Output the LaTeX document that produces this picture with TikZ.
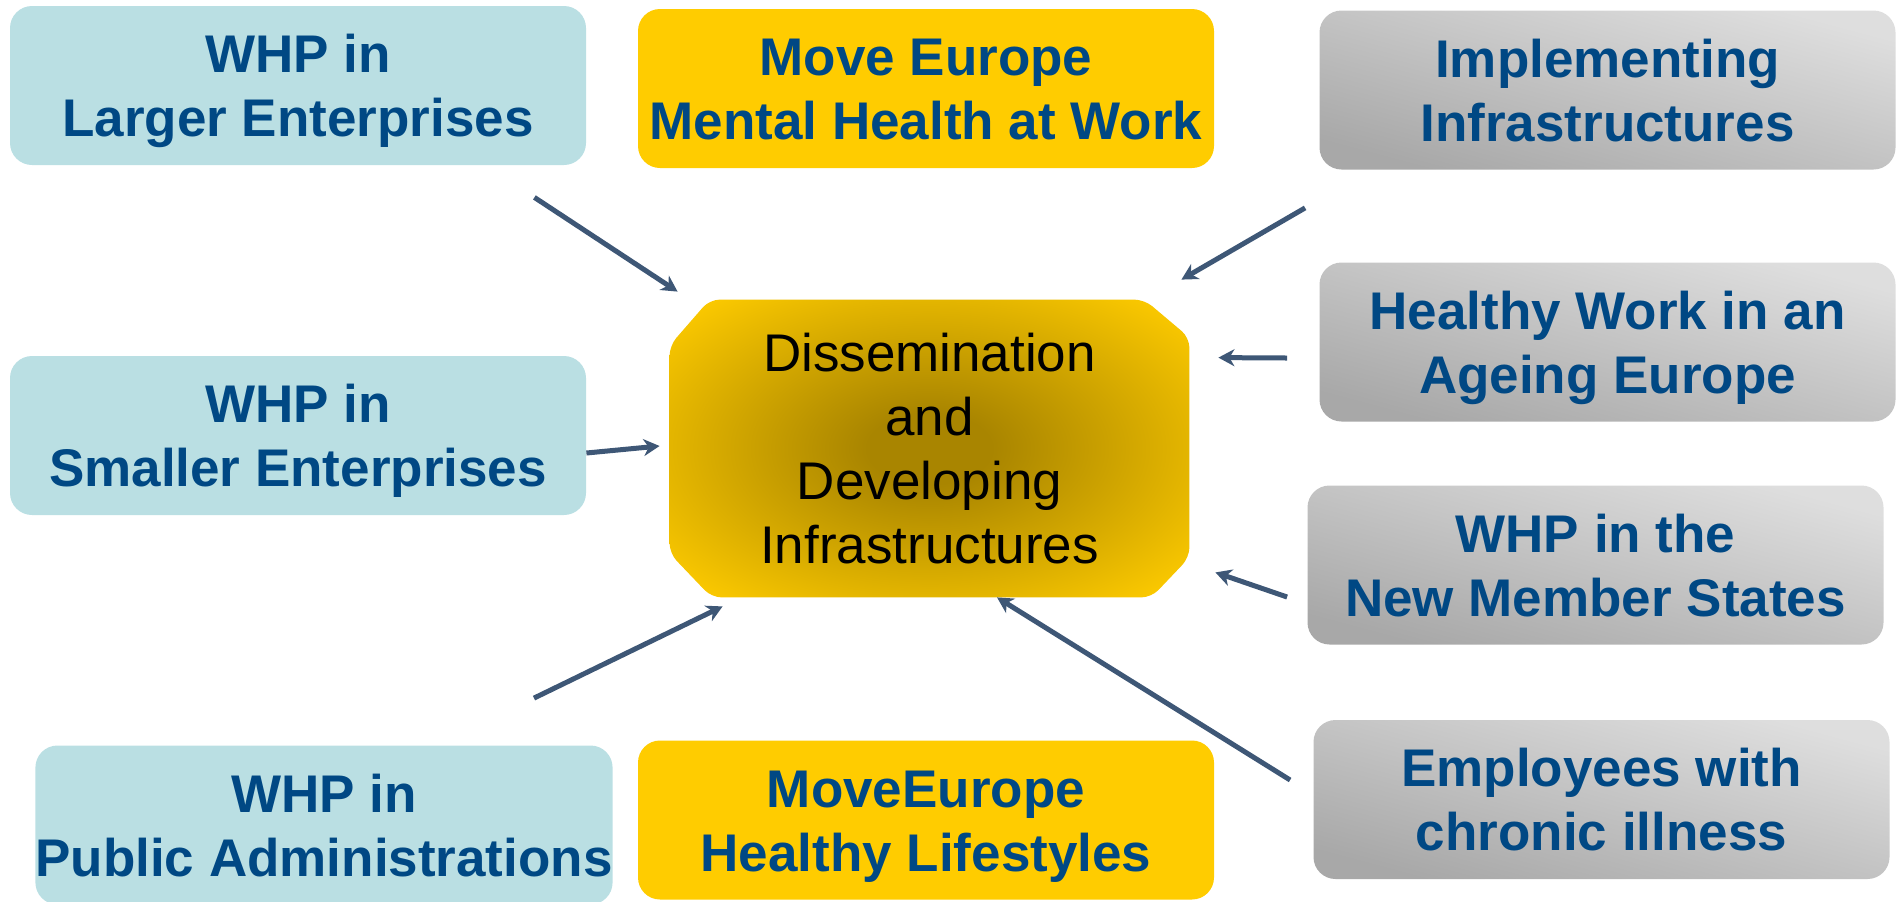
\documentclass[tikz,border=0pt]{standalone}
\usepackage{xcolor}
\usepackage{fontspec}
\setmainfont{Liberation Sans}
\usepackage{tikz}
\usetikzlibrary{calc, arrows.meta, backgrounds}

\definecolor{whpblue}{HTML}{BADFE3}
\definecolor{movegold}{HTML}{FFCC00}
\definecolor{hubdark}{HTML}{A98500}
\definecolor{infralight}{HTML}{DEDEDE}
\definecolor{infradark}{HTML}{A8A8A8}
\definecolor{labelblue}{HTML}{004884}
\definecolor{feedline}{HTML}{3E5776}

\pgfdeclareradialshading{hubshade}{\pgfpoint{0bp}{0bp}}{color(0bp)=(hubdark); color(6bp)=(hubdark); color(34bp)=(movegold); color(50bp)=(movegold)}

\begin{document}
\begin{tikzpicture}[x=0.5pt, y=-0.5pt,
	topicbox/.style={rounded corners=11pt, minimum width=288pt, minimum height=79.5pt, inner sep=0pt, align=center, text=labelblue, font=\fontsize{26.5}{32}\selectfont\bfseries,
		text height=51pt, text depth=0pt},
	whpbox/.style={topicbox, fill=whpblue},
	movebox/.style={topicbox, fill=movegold},
	infrabox/.style={topicbox, top color=infralight, bottom color=infradark, shading angle=-15},
	hubtext/.style={minimum width=259.5pt, minimum height=148.5pt, inner sep=0pt, align=center, font=\fontsize{26.5}{32}\selectfont},
	feedarrow/.style={draw=feedline, line width=2.5pt, -{Stealth[length=8pt, width=8.5pt, inset=2.5pt]}}]
			\useasboundingbox (0,0) rectangle (1899,901);
			
			% left column
			\node[whpbox] (lg) at (298,85.5) {WHP in\\Larger Enterprises};
			\node[whpbox] (sm) at (298,435.5) {WHP in\\Smaller Enterprises};
			\node[whpbox] (pa) at (324,825) {WHP in\\Public Administrations};
			
			% middle column
			\node[movebox] (mh) at (926,88.5) {Move Europe\\Mental Health at Work};
			\node[hubtext] (dis) at (929.5,448.5) {Dissemination\\and\\Developing\\Infrastructures};
			\node[movebox] (hl) at (926,820) {MoveEurope\\Healthy Lifestyles};
			
			% right column
			\node[infrabox] (im) at (1607.5,90) {Implementing\\Infrastructures};
			\node[infrabox] (hw) at (1607.5,342) {Healthy Work in an\\Ageing Europe};
			\node[infrabox] (nm) at (1595.5,565) {WHP in the\\New Member States};
			\node[infrabox] (ch) at (1601.5,799.5) {Employees with\\chronic illness};
			
			\begin{scope}[on background layer]
			\shade[shading=hubshade, rounded corners=5pt] ($(dis.north west)+(40,0)$) -- ($(dis.north east)+(-45,0)$) -- ($(dis.north east)+(0,38)$) -- ($(dis.south east)+(0,-40)$) -- ($(dis.south east)+(-38,0)$) -- ($(dis.south west)+(42,0)$) -- ($(dis.south west)+(0,-44)$) -- ($(dis.north west)+(0,46)$) -- cycle;
			\end{scope}
			
			\draw[feedarrow] ($(lg.south east)+(-52,32)$) -- ($(dis.north west)+(8,-8)$);
			\draw[feedarrow] ($(sm.east)+(0,17.5)$) -- ($(dis.west)+(-10,-2.5)$);
			\draw[feedarrow] ($(pa.north east)+(-79,-47)$) -- ($(dis.south west)+(53,9)$);
			\draw[feedarrow] ($(im.south west)+(-14,38)$) -- ($(dis.north east)+(-8,-20)$);
			\draw[feedarrow] ($(hw.west)+(-32,16)$) -- ($(dis.north east)+(29,58)$);
			\draw[feedarrow] ($(nm.west)+(-20,32)$) -- ($(dis.south east)+(26,-25)$);
			\draw[feedarrow] ($(ch.west)+(-23,-19.5)$) -- ($(dis.south)+(67.5,0)$);
			\end{tikzpicture}
\end{document}
